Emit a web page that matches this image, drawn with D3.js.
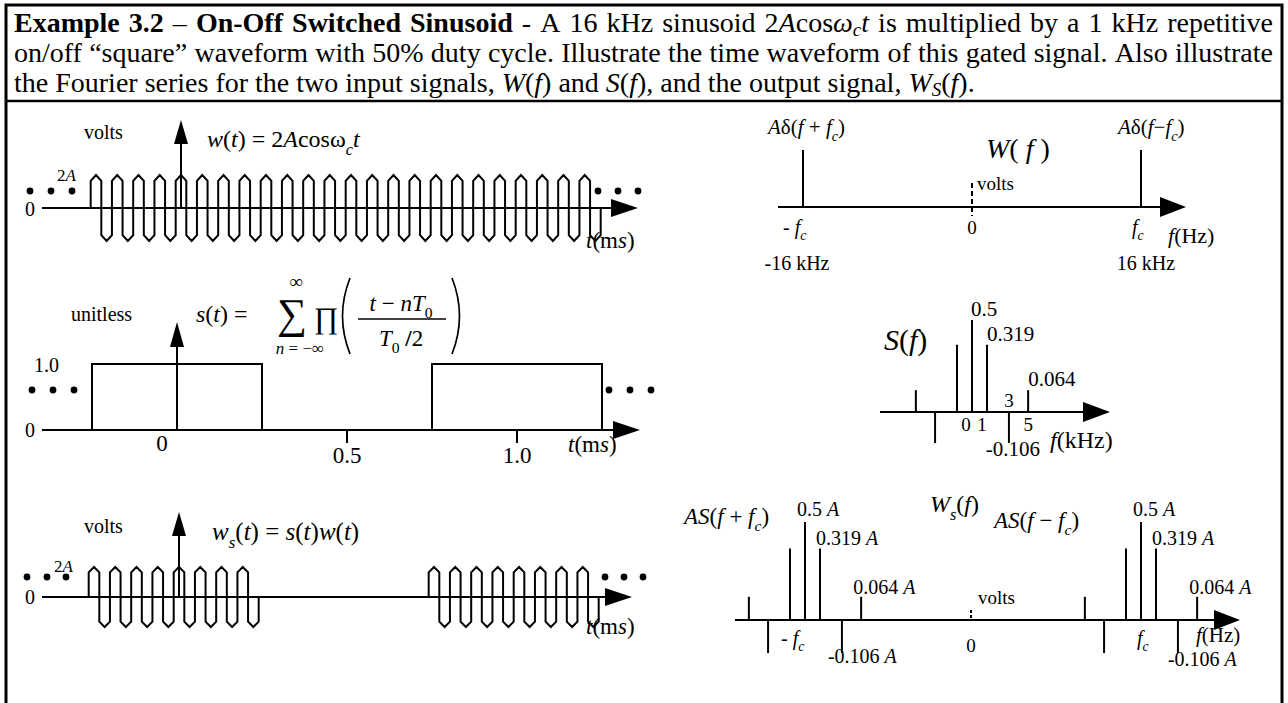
<!DOCTYPE html>
<html>
<head>
<meta charset="utf-8">
<script src="https://cdn.jsdelivr.net/npm/d3@7"></script>
<style>
  html, body { margin: 0; padding: 0; background: #fff; }
  svg { display: block; }
  text { fill: #000; }
</style>
</head>
<body>
<svg id="fig" width="1288" height="703"></svg>
<script>
// ---------------- data ----------------
const carrierKHz = 16;                 // f_c of the sinusoid
const gateKHz = 1;                     // repetition rate of the on/off wave
const dutyCycle = 0.5;
const carrierCycles = [-4, 19];        // first / last carrier cycle drawn in w(t)
const timeTicks = [0.5, 1.0];
const timeTickLabels = ["0.5", "1.0"];
const gateLevel = 1.0;
const carrierPeak = 2;                 // 2A

const harmonics = [-5, -3, -1, 0, 1, 3, 5];                       // kHz
const harmonicValues = [0.064, -0.106, 0.319, 0.5, 0.319, -0.106, 0.064];
const carrierLines = [-16, 16];        // kHz, impulses of W(f)
const carrierWeights = [1, 1];         // in units of A

const headerLines = [
  "**Example 3.2** – **On-Off Switched Sinusoid** - A 16 kHz sinusoid 2*A*cos*ω*{c}*t* is multiplied by a 1 kHz repetitive",
  "on/off “square” waveform with 50% duty cycle. Illustrate the time waveform of this gated signal. Also illustrate",
  "the Fourier series for the two input signals, *W*(*f*) and *S*(*f*), and the output signal, *W*{S}(*f*)."
];

// ---------------- helpers ----------------
const FONT = '"Liberation Serif","Times New Roman",Times,serif';
const svg = d3.select("#fig").attr("font-family", FONT);
const LW = 2;

// text made of runs: [string, style]; style letters: i italic, b bold, s subscript
function rich(parent, x, y, runs, size, anchor, subDrop = 0.32) {
  const t = parent.append("text")
    .attr("x", x).attr("y", y)
    .attr("font-size", size)
    .attr("text-anchor", anchor || "start");
  let shift = 0;
  runs.forEach(([str, st = ""]) => {
    const ts = t.append("tspan").text(str);
    let target = 0, fs = size;
    if (st.includes("s")) { target = size * subDrop; fs = size * 0.68; }
    if (target !== shift) { ts.attr("dy", target - shift); shift = target; }
    if (fs !== size) ts.attr("font-size", fs);
    if (st.includes("i")) ts.attr("font-style", "italic");
    if (st.includes("b")) ts.attr("font-weight", "bold");
  });
  return t;
}

function parseMarkup(s) {
  const words = []; let cur = []; let buf = "";
  let b = false, it = false, sub = false;
  const flush = () => {
    if (buf) { cur.push([buf, (b ? "b" : "") + (it || sub ? "i" : "") + (sub ? "s" : "")]); buf = ""; }
  };
  for (let k = 0; k < s.length; k++) {
    const ch = s[k];
    if (s.startsWith("**", k)) { flush(); b = !b; k++; continue; }
    if (ch === "*") { flush(); it = !it; continue; }
    if (ch === "{") { flush(); sub = true; continue; }
    if (ch === "}") { flush(); sub = false; continue; }
    if (ch === " ") { flush(); if (cur.length) words.push(cur); cur = []; continue; }
    buf += ch;
  }
  flush(); if (cur.length) words.push(cur);
  return words;
}

function line(g, x1, y1, x2, y2, w) {
  return g.append("line").attr("x1", x1).attr("y1", y1).attr("x2", x2).attr("y2", y2)
    .attr("stroke", "#000").attr("stroke-width", w || LW);
}
function hArrow(g, x1, x2, y, len = 26, half = 9) {
  line(g, x1, y, x2 - len + 2, y);
  g.append("path").attr("d", `M${x2},${y}L${x2 - len},${y - half}L${x2 - len},${y + half}Z`).attr("fill", "#000");
}
function vArrow(g, x, y1, y2, len = 24, half = 7) {
  line(g, x, y1, x, y2 + len - 2);
  g.append("path").attr("d", `M${x},${y2}L${x - half},${y2 + len}L${x + half},${y2 + len}Z`).attr("fill", "#000");
}
function dots(g, xs, y) {
  xs.forEach(x => g.append("circle").attr("cx", x).attr("cy", y).attr("r", 3.4).attr("fill", "#000"));
}

// ---------------- frame and header ----------------
svg.append("rect").attr("x", 6).attr("y", 5).attr("width", 1276).attr("height", 740)
  .attr("fill", "none").attr("stroke", "#000").attr("stroke-width", 3);
line(svg, 6, 101, 1282, 101, 2.5);

(function header() {
  const g = svg.append("g");
  const left = 14, right = 1273, baselines = [32, 62, 92], size = 28;
  const parsed = headerLines.map(parseMarkup);
  parsed.forEach((words, li) => {
    const nodes = words.map(wd => rich(g, 0, baselines[li], wd, size, "start", 0.14));
    const widths = nodes.map(n => n.node().getComputedTextLength());
    const total = d3.sum(widths);
    const gap = li < 2 ? (right - left - total) / (words.length - 1) : size * 0.25;
    let x = left;
    nodes.forEach((n, k) => { n.attr("x", x); x += widths[k] + gap; });
  });
})();

// ---------------- time-domain panels ----------------
const period = 1 / carrierKHz;
const shoulder = 0.82;

// stylised carrier: flat-sided lobes with pointed crests, one cycle per index
function carrierPoints(ks) {
  const pts = [[ks[0] * period - period / 4, 0]];
  ks.forEach(k => {
    const c = k * period;
    pts.push([c - period / 4, shoulder * carrierPeak], [c, carrierPeak], [c + period / 4, shoulder * carrierPeak],
             [c + period / 4, -shoulder * carrierPeak], [c + period / 2, -carrierPeak], [c + 3 * period / 4, -shoulder * carrierPeak]);
  });
  pts.push([ks[ks.length - 1] * period + 3 * period / 4, 0]);
  return pts;
}
const gateOn = t => {
  const ph = ((t * gateKHz + dutyCycle / 2) % 1 + 1) % 1;
  return ph < dutyCycle;
};
const allCycles = d3.range(carrierCycles[0], carrierCycles[1] + 1);
const tmsLabel = [["t", "i"], ["(m"], ["s", "i"], [")"]];

// --- w(t)
(function panelW() {
  const g = svg.append("g");
  const x = d3.scaleLinear().domain([0, 1]).range([181, 521]);
  const y = d3.scaleLinear().domain([-carrierPeak, carrierPeak]).range([241, 175]);
  hArrow(g, 42, 638, y(0), 27, 9);
  g.append("path").attr("d", d3.line().x(d => x(d[0])).y(d => y(d[1]))(carrierPoints(allCycles)))
    .attr("fill", "none").attr("stroke", "#000").attr("stroke-width", LW);
  vArrow(g, x(0), y(0), 120, 24, 7);
  rich(g, 84, 139, [["volts"]], 20);
  rich(g, 207, 147, [["w", "i"], ["("], ["t", "i"], [") = 2"], ["A", "i"], ["cosω"], ["c", "is"], ["t", "i"]], 24);
  rich(g, 57, 181, [["2"], ["A", "i"]], 17);
  rich(g, 25, 216, [["0"]], 20);
  dots(g, [30, 51, 72], 191);
  dots(g, [598, 618, 638], 191);
  rich(g, 586, 248, tmsLabel, 23);
})();

// --- s(t)
(function panelS() {
  const g = svg.append("g");
  const x = d3.scaleLinear().domain([0, 1]).range([177, 517]);
  const y = d3.scaleLinear().domain([0, gateLevel]).range([430, 364]);
  hArrow(g, 42, 640, y(0), 27, 9);
  const half = dutyCycle / gateKHz / 2;
  const pts = [];
  [0, 1].forEach(n => {
    const c = n / gateKHz;
    pts.push([c - half, 0], [c - half, gateLevel], [c + half, gateLevel], [c + half, 0]);
  });
  g.append("path").attr("d", d3.line().x(d => x(d[0])).y(d => y(d[1]))(pts))
    .attr("fill", "none").attr("stroke", "#000").attr("stroke-width", LW);
  vArrow(g, x(0), y(0), 322, 25, 7);
  timeTicks.forEach((t, i) => {
    line(g, x(t), y(0), x(t), y(0) + 13);
    rich(g, x(t), 463, [[timeTickLabels[i]]], 23, "middle");
  });
  rich(g, x(0) - 15, 451, [["0"]], 23, "middle");
  rich(g, 568, 452, tmsLabel, 23);
  rich(g, 34, 372, [["1.0"]], 20);
  rich(g, 25, 437, [["0"]], 20);
  dots(g, [32, 53, 74], 390);
  dots(g, [609, 630, 651], 390);
  rich(g, 71, 321, [["unitless"]], 20);

  // s(t) = sum_n Pi((t - nT0)/(T0/2))
  rich(g, 196, 322, [["s", "i"], ["("], ["t", "i"], [") ="]], 24);
  rich(g, 296, 288, [["∞"]], 19, "middle");
  rich(g, 292, 328, [["∑"]], 42, "middle");
  rich(g, 300, 354, [["n", "i"], [" = −∞"]], 17, "middle");
  rich(g, 326, 328, [["∏"]], 30, "middle");
  g.append("path").attr("d", "M350,278 Q335,316 350,354").attr("fill", "none").attr("stroke", "#000").attr("stroke-width", 1.7);
  g.append("path").attr("d", "M452,278 Q467,316 452,354").attr("fill", "none").attr("stroke", "#000").attr("stroke-width", 1.7);
  rich(g, 401, 311, [["t", "i"], [" − "], ["nT", "i"], ["0", "s"]], 23, "middle");
  line(g, 358, 319, 446, 319, 1.7);
  rich(g, 401, 346, [["T", "i"], ["0", "s"], [" "], ["/", "b"], ["2"]], 23, "middle");
})();

// --- w_s(t)
(function panelWs() {
  const g = svg.append("g");
  const x = d3.scaleLinear().domain([0, 1]).range([179, 519]);
  const y = d3.scaleLinear().domain([-carrierPeak, carrierPeak]).range([627, 567]);
  hArrow(g, 42, 632, y(0), 27, 9);
  // keep only the carrier cycles that fall inside the "on" half of the gate
  const on = allCycles.filter(k => gateOn(k * period));
  const runs = [];
  on.forEach(k => {
    const last = runs[runs.length - 1];
    if (last && k === last[last.length - 1] + 1) last.push(k); else runs.push([k]);
  });
  runs.forEach(ks => {
    g.append("path").attr("d", d3.line().x(d => x(d[0])).y(d => y(d[1]))(carrierPoints(ks)))
      .attr("fill", "none").attr("stroke", "#000").attr("stroke-width", LW);
  });
  vArrow(g, x(0), y(0), 512, 24, 7);
  rich(g, 84, 533, [["volts"]], 20);
  rich(g, 212, 540, [["w", "i"], ["s", "is"], ["("], ["t", "i"], [") = "], ["s", "i"], ["("], ["t", "i"], [")"], ["w", "i"], ["("], ["t", "i"], [")"]], 25);
  rich(g, 54, 572, [["2"], ["A", "i"]], 17);
  rich(g, 25, 604, [["0"]], 20);
  dots(g, [27, 47, 66], 577);
  dots(g, [605, 624, 643], 577);
  rich(g, 586, 634, tmsLabel, 23);
})();

// ---------------- frequency-domain panels ----------------
// spacing of the harmonic lines around a centre frequency
const harmonicOffset = d3.scalePow().exponent(0.82).domain([-1, 1]).range([-15, 15]);
const fmtVal = v => String(v);

// --- W(f)
(function panelWf() {
  const g = svg.append("g");
  const x = d3.scaleLinear().domain([-carrierKHz, carrierKHz]).range([803, 1141]);
  const y = d3.scaleLinear().domain([0, 1]).range([207, 150]);
  hArrow(g, 778, 1186, y(0), 26, 10);
  carrierLines.forEach((f, i) => line(g, x(f), y(0), x(f), y(carrierWeights[i])));
  line(g, x(0), 183, x(0), 216, 2).attr("stroke-dasharray", "5,3");
  rich(g, 768, 134, [["A", "i"], ["δ"], ["("], ["f", "i"], [" + "], ["f", "i"], ["c", "is"], [")"]], 21);
  rich(g, 1118, 134, [["A", "i"], ["δ"], ["("], ["f", "i"], ["−"], ["f", "i"], ["c", "is"], [")"]], 21);
  rich(g, 986, 158, [["W", "i"], ["( "], ["f", "i"], [" )"]], 28);
  rich(g, x(0) + 5, 190, [["volts"]], 19);
  rich(g, x(-carrierKHz) - 20, 234, [["- "], ["f", "i"], ["c", "is"]], 20);
  rich(g, x(0), 234, [["0"]], 19, "middle");
  rich(g, x(carrierKHz) - 9, 234, [["f", "i"], ["c", "is"]], 20);
  rich(g, 1168, 243, [["f", "i"], ["(Hz)"]], 22);
  rich(g, x(-carrierKHz) - 6, 270, [["-" + carrierKHz + " kHz"]], 20, "middle");
  rich(g, x(carrierKHz) + 5, 270, [[carrierKHz + " kHz"]], 20, "middle");
})();

// --- S(f)
(function panelSf() {
  const g = svg.append("g");
  const x = d3.scalePow().exponent(0.82).domain([-1, 1]).range([957, 987]);
  const y = d3.scalePow().exponent(0.7).domain([-0.5, 0.5]).range([412 + 92, 412 - 92]);
  hArrow(g, 880, 1110, y(0), 27, 10);
  harmonics.forEach((h, i) => line(g, x(h), y(0), x(h), y(harmonicValues[i])));
  harmonics.forEach((h, i) => {
    const v = harmonicValues[i];
    if (h < 0) return;
    if (v > 0) rich(g, x(h) - (h === 0 ? 1 : 0), y(v) - 4, [[fmtVal(v)]], 21);
    else rich(g, x(h) + 4, 456, [[fmtVal(v)]], 21, "middle");
  });
  // harmonic numbers on the axis
  rich(g, x(0) - 6, 431, [["0"]], 19, "middle");
  rich(g, x(1) - 5, 431, [["1"]], 19, "middle");
  rich(g, x(3), 407, [["3"]], 19, "middle");
  rich(g, x(5), 431, [["5"]], 19, "middle");
  rich(g, 884, 350, [["S", "i"], ["("], ["f", "i"], [")"]], 30);
  rich(g, 1050, 448, [["f", "i"], ["(kHz)"]], 24);
})();

// --- W_s(f)
(function panelWsf() {
  const g = svg.append("g");
  const fx = d3.scaleLinear().domain([-carrierKHz, carrierKHz]).range([805, 1141]);
  const y = d3.scalePow().exponent(0.7).domain([-0.5, 0.5]).range([620 + 98, 620 - 98]);
  hArrow(g, 735, 1240, y(0), 26, 10);
  carrierLines.forEach((c, ci) => {
    harmonics.forEach((h, i) => {
      const xx = fx(c) + harmonicOffset(h);
      line(g, xx, y(0), xx, y(harmonicValues[i] * carrierWeights[ci]));
    });
  });
  line(g, fx(0) - 2, 610, fx(0) - 2, 620, 2).attr("stroke-dasharray", "3,2");
  carrierLines.forEach((c, ci) => {
    const base = fx(c);
    harmonics.forEach((h, i) => {
      const v = harmonicValues[i];
      if (h < 0) return;
      const xx = base + harmonicOffset(h);
      if (v > 0) rich(g, xx - (h === 0 ? 8 : h === 1 ? 4 : 8), y(v) - (h === 0 ? 6 : 3),
                      [[fmtVal(v) + " "], ["A", "i"]], 20);
      else rich(g, xx - 14 + (ci ? 4 : 0), 663 + ci * 3, [[fmtVal(v) + " "], ["A", "i"]], 20);
    });
  });
  rich(g, 684, 524, [["A", "i"], ["S", "i"], ["("], ["f", "i"], [" + "], ["f", "i"], ["c", "is"], [")"]], 23);
  rich(g, 994, 528, [["A", "i"], ["S", "i"], ["("], ["f", "i"], [" − "], ["f", "i"], ["c", "is"], [")"]], 23);
  rich(g, 930, 512, [["W", "i"], ["s", "is"], ["("], ["f", "i"], [")"]], 24);
  rich(g, 978, 604, [["volts"]], 19);
  rich(g, fx(0) - 2, 652, [["0"]], 19, "middle");
  rich(g, fx(-carrierKHz) - 24, 645, [["- "], ["f", "i"], ["c", "is"]], 20);
  rich(g, fx(carrierKHz) - 4, 645, [["f", "i"], ["c", "is"]], 20);
  rich(g, 1196, 642, [["f", "i"], ["(Hz)"]], 21);
})();
</script>
</body>
</html>
